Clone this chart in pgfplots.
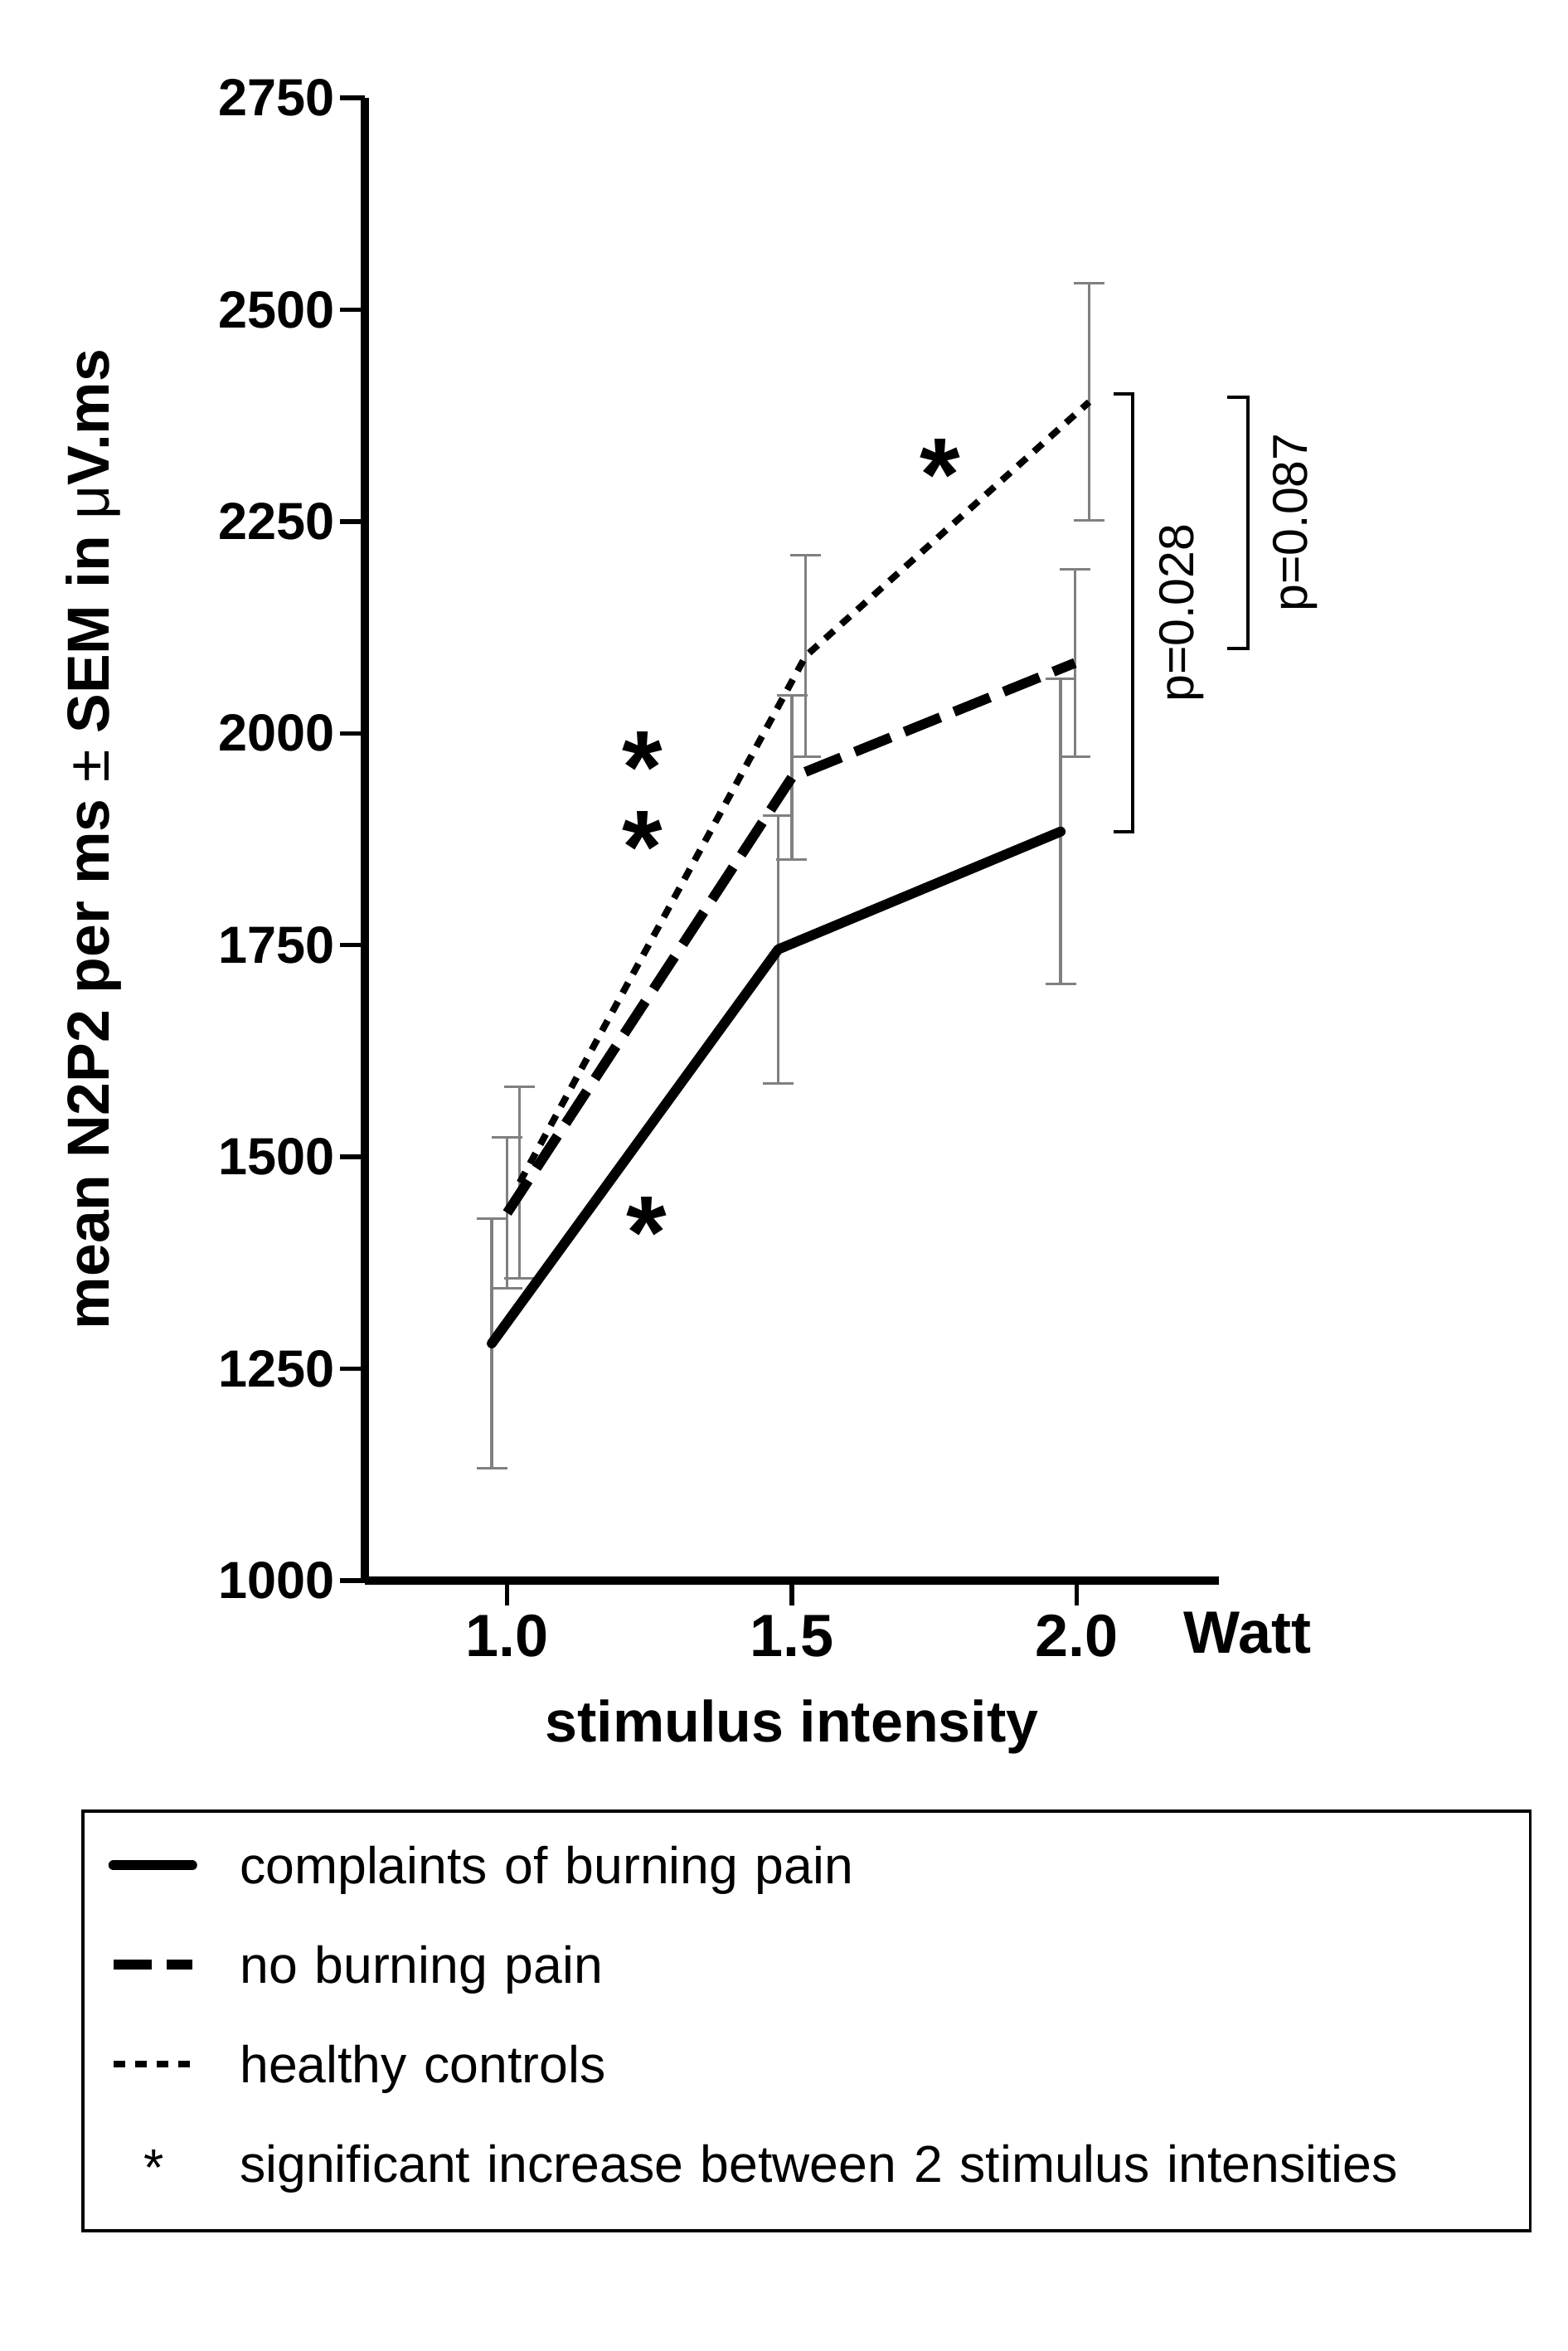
\documentclass[border=0pt]{standalone}
\usepackage{fontspec}
\setmainfont{Liberation Sans}
\usepackage{pgfplots}
\usepackage{pgfplotstable}
\pgfplotsset{compat=1.18}

\pgfplotstableread{
x y e
0.973 1280 147
1.476 1745 158
1.972 1884 180
}\burning
\pgfplotstableread{
x y e
1.000 1434 89
1.500 1948 97
1.997 2083 111
}\noburning
\pgfplotstableread{
x y e
1.022 1470 113
1.524 2091 119
2.022 2391 140
}\healthy

\tikzset{
  starnode/.style={font=\fontsize{25}{19.2}\selectfont\bfseries, inner sep=0pt, anchor=base, yshift=-12.2pt},
  pnode/.style={rotate=90, anchor=base, inner sep=0pt, font=\fontsize{11.8}{14}\selectfont},
}

\begin{document}
\begin{tikzpicture}
\begin{axis}[
  scale only axis, width=206pt, height=357.6pt,
  xmin=0.75, xmax=2.25, ymin=1000, ymax=2750,
  axis x line*=bottom, axis y line*=left,
  axis line style={line width=1.9pt},
  xtick={1,1.5,2}, xticklabels={1.0,1.5,2.0},
  ytick={1000,1250,...,2750},
  tick align=outside,
  major tick length=5.9pt,
  tick style={line width=1.1pt, black},
  /pgf/number format/assume math mode=true,
  /pgf/number format/1000 sep={},
  yticklabel style={font=\fontsize{12.6}{15}\selectfont\bfseries, inner sep=0pt, anchor=east, xshift=-1.1pt},
  xticklabel style={font=\fontsize{14.4}{17}\selectfont\bfseries, inner sep=0pt, anchor=base, yshift=-12.4pt},
  ylabel={mean N2P2 per ms {\mdseries ±} SEM in {\mdseries μ}V.ms},
  xlabel={stimulus intensity},
  every axis y label/.style={at={(axis description cs:-0.2995,0.5)}, rotate=90, anchor=base, font=\fontsize{14.3}{17}\selectfont\bfseries},
  every axis x label/.style={at={(axis description cs:0.5,-0.1085)}, anchor=base, font=\fontsize{14}{17}\selectfont\bfseries},
  clip=false,
  legend image code/.code={\draw[#1] (0pt,1.5pt) -- (19pt,1.5pt);},
  legend cell align=left,
  legend style={
    at={(axis description cs:-0.332,-0.1544)}, anchor=north west,
    draw=black, line width=0.7pt, fill=white,
    inner xsep=6.2pt, inner ysep=8.6pt,
    row sep=12pt,
    font=\fontsize{12.5}{15}\selectfont,
    nodes={inner sep=0pt, text width=305pt, text height=9pt, text depth=3pt, align=left},
    /tikz/every odd column/.append style={column sep=10.3pt},
  },
]
% error bars
\addplot[forget plot, draw=none, error bars/.cd, y dir=both, y explicit, error mark=|,
  error bar style={draw=gray, line width=0.67pt, solid},
  error mark options={draw=gray, line width=0.6pt, mark size=3.7pt, solid}]
  table[x=x, y=y, y error=e]{\burning};
\addplot[forget plot, draw=none, error bars/.cd, y dir=both, y explicit, error mark=|,
  error bar style={draw=gray, line width=0.67pt, solid},
  error mark options={draw=gray, line width=0.6pt, mark size=3.7pt, solid}]
  table[x=x, y=y, y error=e]{\noburning};
\addplot[forget plot, draw=none, error bars/.cd, y dir=both, y explicit, error mark=|,
  error bar style={draw=gray, line width=0.67pt, solid},
  error mark options={draw=gray, line width=0.6pt, mark size=3.7pt, solid}]
  table[x=x, y=y, y error=e]{\healthy};
% lines
\addplot[black, mark=none, line width=2.4pt, solid, line cap=round, line join=round] table[x=x, y=y]{\burning};
\addlegendentry{complaints of burning pain}
\addplot[black, mark=none, line width=2.4pt, dash pattern=on 9.3pt off 3.6pt] table[x=x, y=y]{\noburning};
\addlegendentry{no burning pain}
\addplot[black, mark=none, line width=1.6pt, dash pattern=on 2.8pt off 2.4pt] table[x=x, y=y]{\healthy};
\addlegendentry{healthy controls}
\addlegendimage{legend image code/.code={\node[anchor=base, inner sep=0pt, text width={}, text height={}, text depth={}] at (9.7pt,-3.8pt) {*};}}
\addlegendentry{significant increase between 2 stimulus intensities}
% significance brackets
\addplot[forget plot, black, mark=none, line width=0.8pt] coordinates {(2.0656,2401) (2.0987,2401) (2.0987,1884) (2.0656,1884)};
\addplot[forget plot, black, mark=none, line width=0.8pt] coordinates {(2.265,2397) (2.3003,2397) (2.3003,2100) (2.265,2100)};
\node[pnode] at (axis cs:2.2055,2142) {p=0.028};
\node[pnode] at (axis cs:2.4048,2249) {p=0.087};
% significance stars
\node[starnode] at (axis cs:1.76,2323) {*};
\node[starnode, align=center, anchor=south] at (axis cs:1.237,1882) {*\\*};
\node[starnode] at (axis cs:1.245,1428) {*};
% unit
\node[anchor=base west, inner sep=0pt, font=\fontsize{14.4}{17}\selectfont\bfseries, yshift=-17.5pt] at (axis cs:2.187,1000) {Watt};
\coordinate (O) at (rel axis cs:0,0);
\end{axis}
\path ([shift={(-88pt,-185.8pt)}]O) rectangle ++(378pt,567pt);
\end{tikzpicture}
\end{document}
